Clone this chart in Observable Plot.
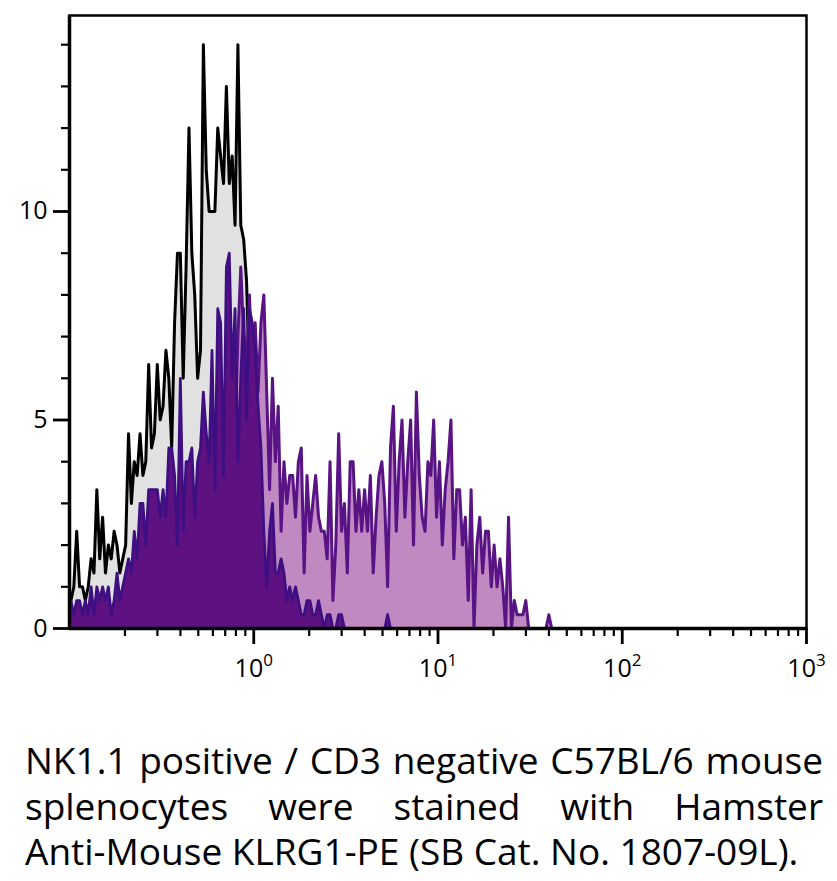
<!DOCTYPE html>
<html>
<head>
<meta charset="utf-8">
<script src="https://cdn.jsdelivr.net/npm/d3@7"></script>
<script src="https://cdn.jsdelivr.net/npm/@observablehq/plot@0.6"></script>
<style>
  body { margin: 0; background: #fff; font-family: "Open Sans", sans-serif; }
  #chart svg { display: block; }
  .caption { margin: 37px 0 0 25px; width: 798px; font-size: 37px; line-height: 45.5px; color: #000; }
  .caption .j { text-align: justify; text-align-last: justify; }
</style>
</head>
<body>
<div id="chart"></div>
<div class="caption">
  <div class="j">NK1.1 positive / CD3 negative C57BL/6 mouse</div>
  <div class="j">splenocytes were stained with Hamster</div>
  <div>Anti-Mouse KLRG1-PE (SB Cat. No. 1807-09L).</div>
</div>
<script>
// Histogram channels: 64 bins per decade, starting at 10^-1
const binsPerDecade = 64;
const firstDecade = -1;

// Control (grey fill, black outline)
const controlCounts = [
  0.67,1.0,2.33,1.0,1.0,0.67,1.0,1.67,1.33,3.33,
  1.67,2.67,1.33,2.0,1.67,2.33,2.0,1.33,1.67,2.0,
  4.67,3.0,4.0,3.67,4.67,3.67,4.0,6.33,4.33,4.67,
  6.33,5.0,5.33,6.67,6.0,4.33,7.33,9.0,9.0,6.0,
  8.67,12.0,9.0,8.0,6.0,6.67,14.0,11.0,10.0,10.0,
  10.0,12.0,11.33,10.67,13.0,10.67,11.33,9.67,14.0,9.67,
  9.33,8.33,6.0,7.0,4.0,3.0,2.0,1.0,0.33,0
];

// KLRG1-PE stained (light purple fill, purple outline)
const klrg1Counts = [
  0.33,0,0.33,0.33,0,0.33,0,0.67,0,0.67,
  0.33,0.67,0.33,0.67,0,0.33,1.0,0.33,0.67,1.0,
  1.0,1.0,1.67,1.33,2.33,2.0,1.67,2.67,2.33,2.67,
  2.67,2.0,2.67,2.33,3.33,3.67,3.0,1.67,4.67,2.0,
  3.33,3.67,3.67,2.33,3.33,3.67,4.67,4.0,3.67,5.33,
  3.0,6.33,6.0,3.33,7.0,5.0,5.33,4.67,7.0,8.67,
  7.0,6.33,8.0,6.0,7.33,5.67,7.33,8.0,5.67,3.33,
  6.0,4.0,5.33,2.33,4.0,3.0,3.67,3.67,2.67,4.0,
  4.33,1.33,3.67,2.33,3.0,3.67,2.67,2.33,2.33,1.67,
  4.0,0.67,2.0,4.67,2.33,3.0,1.33,4.0,4.0,2.33,
  3.33,2.33,3.33,2.33,3.67,1.33,2.67,3.67,4.0,3.0,
  1.0,4.33,5.33,2.33,4.0,5.0,2.67,4.0,5.0,2.0,
  5.67,3.67,2.67,2.33,4.0,3.67,5.0,2.67,4.0,2.0,
  3.33,4.0,5.0,1.67,3.33,3.33,2.0,2.67,0.67,3.33,
  0,2.0,2.67,1.33,2.33,2.33,1.0,2.0,1.0,1.67,
  1.0,0,2.67,0,0.67,0.33,0.33,0.33,0.67,0,
  0,0,0,0,0,0,0.33,0
];

// Dark purple population (dark fill, indigo outline)
const darkCounts = [
  0.67,0.33,0.67,0.67,0.33,0.67,0.33,1.0,0.33,1.0,
  0.67,1.0,0.67,1.0,0.33,0.67,1.33,0.67,1.0,1.33,
  1.67,1.33,2.33,1.67,3.0,3.0,2.0,3.33,3.33,3.33,
  3.33,2.67,3.33,2.67,4.33,4.33,3.67,2.0,6.0,2.33,
  4.0,4.0,4.33,2.67,4.0,4.33,5.67,4.67,4.0,6.67,
  3.33,7.67,7.33,3.67,8.67,9.0,6.0,7.67,4.0,6.0,
  7.67,5.0,7.67,7.33,6.67,5.33,4.33,2.33,1.0,2.33,
  3.0,1.33,1.33,1.67,1.33,0.67,1.0,0.67,1.0,0.67,
  0.33,0.33,0.67,0.67,0.33,0.33,0.67,0.33,0,0.33,
  0.33,0,0,0.33,0.33,0,0,0,0,0,
  0,0,0,0,0,0,0,0,0,0,
  0.33,0
];

const xMajorTicks = [1, 10, 100, 1000];
const xMajorExponents = ["0", "1", "2", "3"];
const xMinorTicks = [0.2,0.3,0.4,0.5,0.6,0.7,0.8,0.9, 2,3,4,5,6,7,8,9, 20,30,40,50,60,70,80,90, 200,300,400,500,600,700,800,900];
const yMajorTicks = [0, 5, 10];
const yMinorTicks = [1,2,3,4,6,7,8,9,11,12,13,14];

const toRows = counts => counts.map((count, i) => ({
  x: 10 ** (firstDecade + (i + 0.5) / binsPerDecade),
  count
}));
const control = toRows(controlCounts);
const klrg1 = toRows(klrg1Counts);
const dark = toRows(darkCounts);

const lineOpts = { x: "x", y: "count", curve: "linear", strokeLinejoin: "round", strokeLinecap: "round" };

const chart = Plot.plot({
  width: 837,
  height: 700,
  marginLeft: 69,
  marginRight: 31,
  marginTop: 15,
  marginBottom: 72,
  style: { fontFamily: '"Open Sans", sans-serif', color: "#000", background: "#fff", overflow: "visible" },
  x: { type: "log", domain: [0.1, 1000], label: null },
  y: { domain: [0, 14.7], label: null },
  marks: [
    Plot.areaY(control, { x: "x", y: "count", curve: "linear", fill: "#e1e1e1" }),
    Plot.lineY(control, { ...lineOpts, stroke: "#000", strokeWidth: 3 }),
    Plot.areaY(klrg1, { x: "x", y: "count", curve: "linear", fill: "#c189c1" }),
    Plot.lineY(klrg1, { ...lineOpts, stroke: "#581485", strokeWidth: 3 }),
    Plot.areaY(dark, { x: "x", y: "count", curve: "linear", fill: "#5e1282" }),
    Plot.lineY(dark, { ...lineOpts, stroke: "#3d0f82", strokeWidth: 2.8 }),
    Plot.frame({ stroke: "#000", strokeWidth: 2.5 }),
    Plot.ruleX([0.1], { stroke: "#000", strokeWidth: 3.5 }),
    Plot.ruleY([0], { stroke: "#000", strokeWidth: 3.5 }),
    Plot.axisX(xMinorTicks, { tickSize: 8, strokeWidth: 2.2, tickFormat: () => "" }),
    Plot.axisX(xMajorTicks, {
      tickSize: 16, tickPadding: 15, strokeWidth: 2.8, fontSize: 25,
      tickFormat: d => "10^" + xMajorExponents[xMajorTicks.indexOf(d)]
    }),
    Plot.axisY(yMinorTicks, { tickSize: 8, strokeWidth: 2.2, tickFormat: () => "" }),
    Plot.axisY(yMajorTicks, { tickSize: 16, tickPadding: 6, strokeWidth: 2.8, fontSize: 25 })
  ]
});

d3.select(chart).selectAll('g[aria-label="x-axis tick label"] text').each(function () {
  const t = this.textContent;
  if (!t.includes("^")) return;
  const [base, exp] = t.split("^");
  const s = d3.select(this);
  s.text(base);
  s.append("tspan").attr("dy", -11).attr("font-size", 17).text(exp);
});

document.getElementById("chart").appendChild(chart);
</script>
</body>
</html>
